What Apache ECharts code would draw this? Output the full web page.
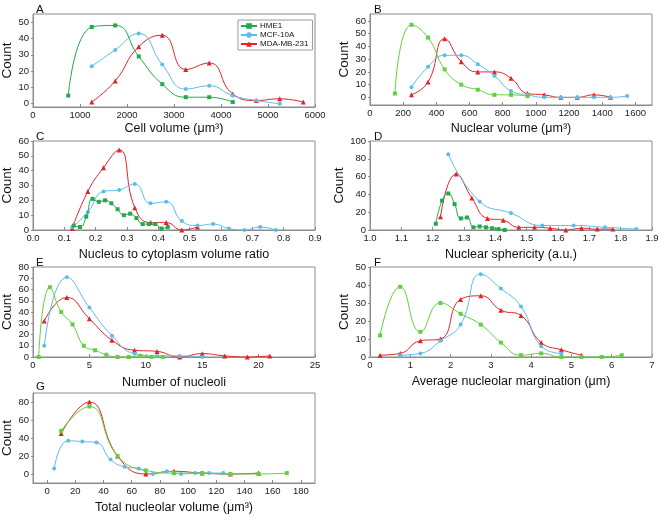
<!DOCTYPE html>
<html>
<head>
<meta charset="utf-8">
<script src="https://cdn.jsdelivr.net/npm/echarts@6/dist/echarts.min.js"></script>
<style>html,body{margin:0;padding:0;background:#fff}#chart{width:662px;height:516px}</style>
</head>
<body>
<div id="chart"></div>
<script>
// panel A - cell volume
var aBins = [750, 1250, 1750, 2250, 2750, 3250, 3750, 4250, 4750, 5250, 5750];
var aHME1 = [5, 47, 48, 29, 12, 4, 4, 1, null, null, null];
var aMCF = [null, 23, 33, 43, 24, 9, 11, 5, 2, 0, null];
var aMDA = [null, 1, 14, 35, 42, 21, 25, 6, 2, 3, 1];
var aXTicks = [0, 1000, 2000, 3000, 4000, 5000, 6000];
var aYTicks = [0, 10, 20, 30, 40, 50];

// panel B - nuclear volume
var bBins = [150, 250, 350, 450, 550, 650, 750, 850, 950, 1050, 1150, 1250, 1350, 1450, 1550];
var bHME1 = [3, 57, 47, 22, 10, 6, 2, 2, 1, null, null, null, null, null, null];
var bMCF = [null, 8, 24, 33, 33, 26, 17, 5, 2, 0, 0, 0, 0, 0, 1];
var bMDA = [null, 2, 12, 46, 28, 20, 20, 15, 3, 2, 0, 0, 2, 0, null];
var bXTicks = [0, 200, 400, 600, 800, 1000, 1200, 1400, 1600];
var bYTicks = [0, 10, 20, 30, 40, 50, 60];

// panel C - nucleus to cytoplasm ratio
var cHMEx = [0.13, 0.15, 0.17, 0.19, 0.21, 0.23, 0.25, 0.27, 0.29, 0.31, 0.33, 0.35, 0.37, 0.39, 0.41, 0.43];
var cHME1 = [3, 2, 9, 21, 19, 20, 18, 14, 10, 11, 8, 4, 4, 4, 1, 2];
var cBins = [0.125, 0.175, 0.225, 0.275, 0.325, 0.375, 0.425, 0.475, 0.525, 0.575, 0.625, 0.675, 0.725, 0.775];
var cMCF = [2, 12, 26, 27, 31, 18, 19, 6, 3, 4, 1, 0, 2, 0];
var cMDA = [1, 26, 42, 54, 15, 5, 5, 0, 2, null, null, null, null, null];
var cXTicks = [0, 0.1, 0.2, 0.3, 0.4, 0.5, 0.6, 0.7, 0.8, 0.9];
var cYTicks = [0, 10, 20, 30, 40, 50, 60];

// panel D - nuclear sphericity
var dHMEx = [1.21, 1.23, 1.25, 1.27, 1.29, 1.31, 1.33, 1.35, 1.37, 1.39, 1.41, 1.43];
var dHME1 = [7, 33, 41, 29, 13, 14, 3, 4, 3, 2, 1, 0];
var dMCFx = [1.25, 1.35, 1.45, 1.55, 1.65, 1.75, 1.85];
var dMCF = [85, 32, 19, 5, 5, 3, 1];
var dMDAx = [1.225, 1.275, 1.325, 1.375, 1.425, 1.475, 1.525, 1.575, 1.625, 1.675, 1.725, 1.775];
var dMDA = [15, 63, 36, 13, 11, 3, 3, 2, 0, 2, 1, 1];
var dXTicks = [1.0, 1.1, 1.2, 1.3, 1.4, 1.5, 1.6, 1.7, 1.8, 1.9];
var dYTicks = [0, 20, 40, 60, 80, 100];

// panel E - number of nucleoli
var eHMEx = [0.5, 1.5, 2.5, 3.5, 4.5, 5.5, 6.5, 7.5, 8.5, 9.5, 10.5, 11.5];
var eHME1 = [0, 62, 40, 29, 10, 6, 2, 0, 0, 1, 0, 0];
var eBins = [1, 3, 5, 7, 9, 11, 13, 15, 17, 19, 21];
var eMCF = [10, 71, 44, 19, 3, 1, 1, 0, null, null, null];
var eMDA = [32, 53, 34, 15, 6, 5, 0, 3, 1, 0, 1];
var eXTicks = [0, 5, 10, 15, 20, 25];
var eYTicks = [0, 10, 20, 30, 40, 50, 60, 70, 80];

// panel F - average nucleolar margination
var fBins = [0.25, 0.75, 1.25, 1.75, 2.25, 2.75, 3.25, 3.75, 4.25, 4.75, 5.25, 5.75, 6.25];
var fHME1 = [12, 39, 14, 30, 24, 18, 8, 1, 2, 0, 0, 0, 1];
var fMCF = [null, 1, 2, 9, 18, 46, 38, 28, 6, 2, null, null, null];
var fMDA = [1, 2, 9, 10, 32, 34, 26, 23, 8, 4, 1, null, null];
var fXTicks = [0, 1, 2, 3, 4, 5, 6, 7];
var fYTicks = [0, 10, 20, 30, 40, 50];

// panel G - total nucleolar volume
var gBins = [10, 30, 50, 70, 90, 110, 130, 150, 170];
var gHME1 = [48, 75, 20, 4, 1, 1, 0, 0, 1];
var gMDA = [45, 80, 20, 0, 3, 1, 0, 1, null];
var gMCFx = [5, 15, 25, 35, 45, 55, 65, 75, 85, 95, 105, 115, 125];
var gMCF = [6, 37, 36, 35, 16, 8, 6, 0, 3, 0, 1, 1, 1];
var gXTicks = [0, 20, 40, 60, 80, 100, 120, 140, 160, 180];
var gYTicks = [0, 20, 40, 60, 80];

var FONT = "'Liberation Sans', Arial, sans-serif";
var RED = '#e3222b', BLUE = '#5bbde8', GREEN = '#23a84a', LGREEN = '#62cf40';

function pairs(xs, ys) {
  var out = [];
  for (var i = 0; i < xs.length; i++) {
    if (ys[i] != null) out.push([xs[i], ys[i]]);
  }
  return out;
}

var panels = [
  { letter: 'A', box: [33, 14, 282, 93], x: [0, 6000, aXTicks, 0], y: [-2, 55, aYTicks],
    name: 'Cell volume (μm³)', gap: 15, green: GREEN,
    s: [[aBins, aHME1], [aBins, aMCF], [aBins, aMDA]] },
  { letter: 'B', box: [370, 14, 282, 91], x: [0, 1700, bXTicks, 0], y: [-6, 65.5, bYTicks],
    name: 'Nuclear volume (μm³)', gap: 17, green: LGREEN,
    s: [[bBins, bHME1], [bBins, bMCF], [bBins, bMDA]] },
  { letter: 'C', box: [33, 141, 282, 89], x: [0, 0.9, cXTicks, 1], y: [0, 60, cYTicks],
    name: 'Nucleus to cytoplasm volume ratio', gap: 18, green: GREEN,
    s: [[cHMEx, cHME1], [cBins, cMCF], [cBins, cMDA]] },
  { letter: 'D', box: [370, 141, 282, 89], x: [1.0, 1.9, dXTicks, 1], y: [0, 100, dYTicks],
    name: 'Nuclear sphericity (a.u.)', gap: 18, green: GREEN,
    s: [[dHMEx, dHME1], [dMCFx, dMCF], [dMDAx, dMDA]] },
  { letter: 'E', box: [33, 267, 282, 90], x: [0, 25, eXTicks, 0], y: [0, 80, eYTicks],
    name: 'Number of nucleoli', gap: 19, green: LGREEN,
    s: [[eHMEx, eHME1], [eBins, eMCF], [eBins, eMDA]] },
  { letter: 'F', box: [370, 267, 282, 90], x: [0, 7, fXTicks, 0], y: [0, 50, fYTicks],
    name: 'Average nucleolar margination (μm)', gap: 18, green: LGREEN,
    s: [[fBins, fHME1], [fBins, fMCF], [fBins, fMDA]] },
  { letter: 'G', box: [33, 393, 282, 90], x: [-10, 190, gXTicks, 0], y: [-10, 90, gYTicks],
    name: 'Total nucleolar volume (μm³)', gap: 18, green: LGREEN,
    s: [[gBins, gHME1], [gMCFx, gMCF], [gBins, gMDA]] }
];

var names = ['HME1', 'MCF-10A', 'MDA-MB-231'];
var symbols = ['rect', 'circle', 'triangle'];

var grids = [], xAxes = [], yAxes = [], series = [], texts = [];
panels.forEach(function (p, i) {
  grids.push({
    left: p.box[0], top: p.box[1], width: p.box[2], height: p.box[3],
    containLabel: false, outerBoundsMode: 'none',
    show: true, borderColor: '#8c8c8c', borderWidth: 1
  });
  var dec = p.x[3];
  xAxes.push({
    type: 'value', gridIndex: i, min: p.x[0], max: p.x[1],
    name: p.name, nameLocation: 'middle', nameGap: p.gap,
    nameTextStyle: { fontFamily: FONT, fontSize: 12.5, color: '#111' },
    splitLine: { show: false },
    axisLine: { show: true, onZero: false, lineStyle: { color: '#8c8c8c' } },
    axisTick: { show: true, inside: true, length: 3, customValues: p.x[2], lineStyle: { color: '#8c8c8c' } },
    axisLabel: { customValues: p.x[2], margin: 3, fontFamily: FONT, fontSize: 9.5, color: '#222',
      formatter: function (v) { return dec ? v.toFixed(dec) : String(v); } }
  });
  yAxes.push({
    type: 'value', gridIndex: i, min: p.y[0], max: p.y[1],
    name: 'Count', nameLocation: 'middle', nameGap: i % 2 ? 19 : 17,
    nameTextStyle: { fontFamily: FONT, fontSize: 13.5, color: '#111' },
    splitLine: { show: false },
    axisLine: { show: true, onZero: false, lineStyle: { color: '#8c8c8c' } },
    axisTick: { show: true, length: 2, customValues: p.y[2], lineStyle: { color: '#8c8c8c' } },
    axisLabel: { customValues: p.y[2], margin: 4, fontFamily: FONT, fontSize: 9.5, color: '#222' }
  });
  var colors = [p.green, BLUE, RED];
  p.s.forEach(function (d, k) {
    series.push({
      name: names[k], type: 'line', xAxisIndex: i, yAxisIndex: i,
      data: pairs(d[0], d[1]), smooth: 0.5,
      symbol: symbols[k], symbolSize: k === 2 ? 5 : 4,
      lineStyle: { width: 1, color: colors[k] },
      itemStyle: { color: colors[k] },
      emphasis: { disabled: true }, z: 3 - k
    });
  });
  texts.push({
    type: 'text', left: p.box[0] + (i % 2 ? 4 : 3), top: p.box[1] - (i === 6 ? 12 : 10),
    style: { text: p.letter, fontFamily: FONT, fontSize: 11.5, fill: '#111' }
  });
});

var chart = echarts.init(document.getElementById('chart'));
chart.setOption({
  animation: false,
  backgroundColor: '#fff',
  grid: grids,
  xAxis: xAxes,
  yAxis: yAxes,
  legend: {
    data: names, orient: 'vertical', left: 238, top: 20,
    itemWidth: 16, itemHeight: 7, itemGap: 1,
    padding: [2, 4, 2, 2], borderColor: '#999', borderWidth: 1,
    textStyle: { fontFamily: FONT, fontSize: 8, color: '#111', padding: [0, 0, 0, -2] }
  },
  graphic: texts,
  series: series
});
</script>
</body>
</html>
